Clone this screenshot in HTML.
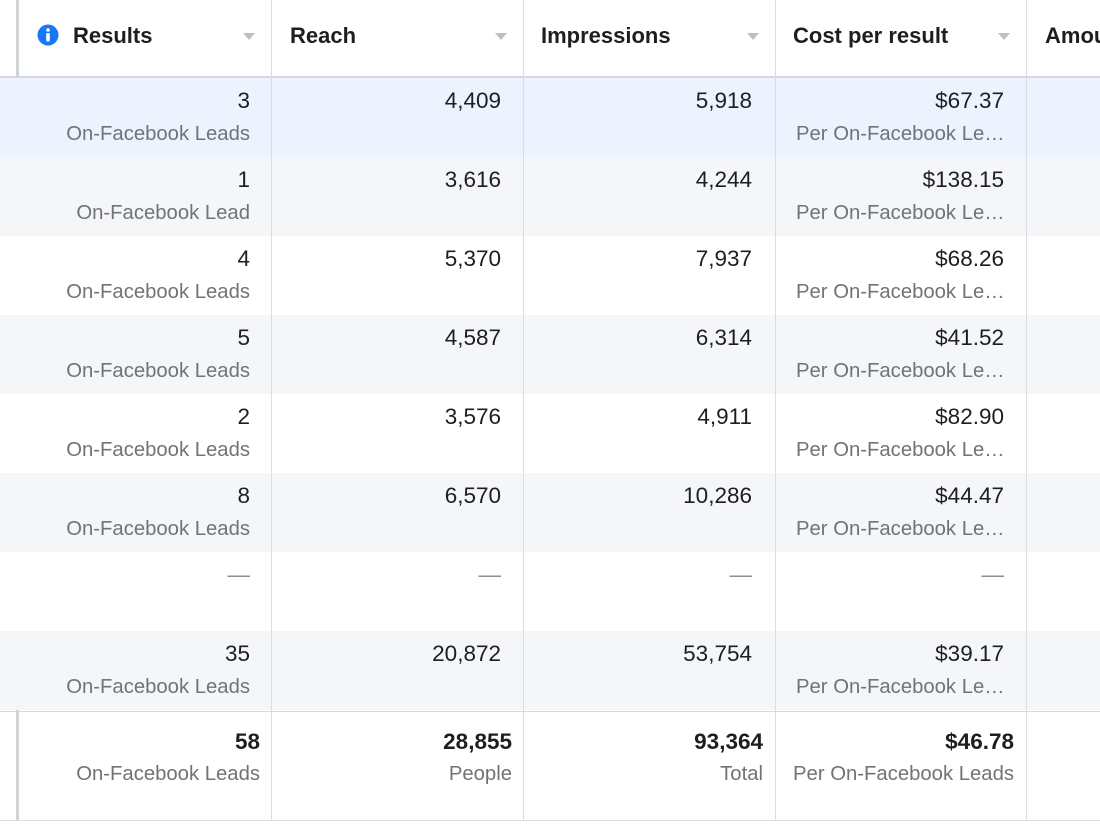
<!DOCTYPE html>
<html><head><meta charset="utf-8"><style>
body{margin:0;width:1100px;height:825px;overflow:hidden;background:#fff;font-family:"Liberation Sans",Arial,sans-serif;position:relative}
.abs{position:absolute}
.hdr{position:absolute;top:0;height:76px;font-weight:bold;font-size:22px;color:#1c1e21;line-height:72px}
.arrow{position:absolute;top:33px;width:0;height:0;border-left:6px solid transparent;border-right:6px solid transparent;border-top:7px solid #bcc0c4}
.vline{position:absolute;top:0;width:1px;height:820px;background:#dadde1}
.row{position:absolute;left:0;width:1100px;height:79px}
.num{position:absolute;font-size:22.5px;color:#1c1e21;text-align:right;white-space:nowrap}
.sub{position:absolute;font-size:20.3px;color:#707378;text-align:right;white-space:nowrap}
</style></head><body>
<div class="abs" style="left:16px;top:0;width:3px;height:820px;background:#d0d3d8"></div>
<div class="abs" style="left:0;top:76px;width:1100px;height:2px;background:#d5d8dd"></div>
<div id="rows"></div>
<div class="abs" style="left:0;top:711px;width:1100px;height:1px;background:#d5d8dd"></div>
<div class="abs" style="left:0;top:820px;width:1100px;height:1px;background:#dadde1"></div>

<div class="vline" style="left:271px"></div>
<div class="vline" style="left:523px"></div>
<div class="vline" style="left:775px"></div>
<div class="vline" style="left:1026px"></div>

<svg class="abs" style="left:37px;top:24px" width="22" height="22" viewBox="0 0 22 22"><circle cx="11" cy="11" r="10.5" fill="#1877f2"/><circle cx="11" cy="6" r="1.8" fill="#fff"/><rect x="9.2" y="9" width="3.6" height="8.5" rx="1" fill="#fff"/></svg>
<div class="hdr" style="left:73px">Results</div>
<div class="arrow" style="left:243px"></div>
<div class="hdr" style="left:290px">Reach</div>
<div class="arrow" style="left:495px"></div>
<div class="hdr" style="left:541px">Impressions</div>
<div class="arrow" style="left:747px"></div>
<div class="hdr" style="left:793px">Cost per result</div>
<div class="arrow" style="left:998px"></div>
<div class="hdr" style="left:1045px">Amount</div>

<div class="num" style="right:840px;top:729px;font-weight:bold">58</div>
<div class="sub" style="right:840px;top:763px">On-Facebook Leads</div>
<div class="num" style="right:588px;top:729px;font-weight:bold">28,855</div>
<div class="sub" style="right:588px;top:763px">People</div>
<div class="num" style="right:337px;top:729px;font-weight:bold">93,364</div>
<div class="sub" style="right:337px;top:763px">Total</div>
<div class="num" style="right:86px;top:729px;font-weight:bold">$46.78</div>
<div class="sub" style="right:86px;top:763px">Per On-Facebook Leads</div>

<script>
const results=["3","1","4","5","2","8","—","35"];
const resultLabels=["On-Facebook Leads","On-Facebook Lead","On-Facebook Leads","On-Facebook Leads","On-Facebook Leads","On-Facebook Leads","","On-Facebook Leads"];
const reach=["4,409","3,616","5,370","4,587","3,576","6,570","—","20,872"];
const impressions=["5,918","4,244","7,937","6,314","4,911","10,286","—","53,754"];
const costs=["$67.37","$138.15","$68.26","$41.52","$82.90","$44.47","—","$39.17"];
const container=document.getElementById('rows');
const bgs=["#ecf3fe","#f5f6f8","#ffffff"];
results.forEach((r,i)=>{
  const top=78+i*79;
  const row=document.createElement('div');
  row.className='row';
  
  
  row.style.top=top+'px';
  row.style.background=i===0?bgs[0]:(i%2===1?bgs[1]:bgs[2]);
  container.appendChild(row);
  const dash=r==='—';
  const cols=[[r,resultLabels[i],850],[reach[i],'',599],[impressions[i],'',348],[costs[i],dash?'':'Per On-Facebook Le…',96]];
  cols.forEach((c,j)=>{
    const n=document.createElement('div');
    n.className='num';
    
    
    n.textContent=c[0];
    n.style.right=c[2]+'px';
    n.style.top=(top+10)+'px';
    if(dash){n.style.color='#8a8d91';}
    document.body.appendChild(n);
    if(c[1]){
      const s=document.createElement('div');
      s.className='sub';
      
      
      s.textContent=c[1];
      if(j===3){s.style.left='796px';s.style.textAlign='left';}
      else s.style.right=c[2]+'px';
      s.style.top=(top+45)+'px';
      document.body.appendChild(s);
    }
  });
});
</script>
</body></html>
